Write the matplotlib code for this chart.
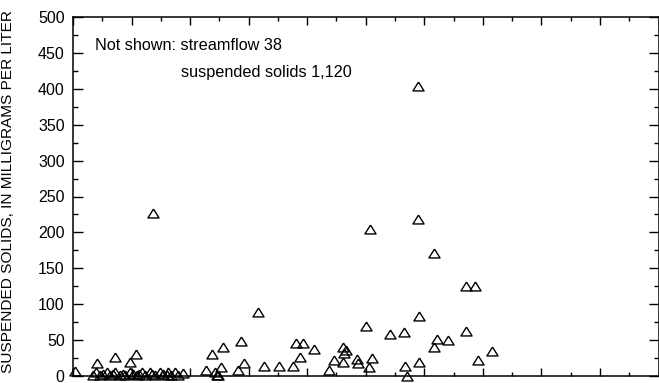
import matplotlib
matplotlib.use("Agg")
import matplotlib.pyplot as plt
from matplotlib.ticker import MultipleLocator

plt.rcParams['font.family'] = ['Liberation Sans', 'DejaVu Sans']

# streamflow (unlabelled x axis) and suspended solids, mg/L
streamflow = [
    0.03, 0.41, 0.72, 1.08, 0.97, 1.37,
    0.40, 0.58, 0.72, 0.97, 1.17, 1.31, 1.48, 1.62, 1.74, 1.88,
    0.34, 0.46, 0.63, 0.80, 0.89, 1.09, 1.23, 1.40, 1.60, 1.68, 1.79,
    0.52, 0.68, 0.85, 1.02, 1.13, 1.35, 1.53,
    2.27, 2.37, 2.56, 2.87, 3.16, 2.53, 2.42, 2.46, 2.47, 2.92, 2.82,
    3.27, 3.52, 3.76, 3.81, 3.92, 3.87, 4.11, 4.37, 4.46,
    4.61, 4.67, 4.62, 4.61, 4.85, 4.87, 5.01, 5.11, 5.06, 5.07,
    5.41, 5.66, 5.67, 5.71, 5.91, 5.91, 5.90, 5.90,
    6.17, 6.17, 6.21, 6.41, 6.71, 6.87, 6.71, 6.91, 7.16,
]
solids = [
    7, 18, 26, 31, 19, 227,
    6, 6, 6, 6, 6, 6, 6, 6, 6, 4,
    1, 1, 1, 1, 1, 1, 1, 1, 1, 1, 1,
    3, 3, 3, 3, 3, 3, 3,
    8, 31, 40, 49, 89, 13, 6, 1, 2, 18, 8,
    14, 14, 14, 46, 46, 26, 37, 8, 22,
    41, 36, 32, 20, 23, 18, 69, 25, 13, 205,
    58, 61, 14, 0, 20, 83, 218, 404,
    171, 41, 51, 50, 126, 126, 63, 22, 35,
]

fig = plt.figure(figsize=(6.59, 3.83), dpi=100)
ax = fig.add_axes([73 / 659, 7 / 383, 585.5 / 659, 359 / 383])

tri = [(0, 0.8), (-1, -0.8), (1, -0.8), (0, 0.8)]
ax.plot(streamflow, solids, linestyle='none', marker=tri, markersize=8,
        markerfacecolor='none', markeredgecolor='black', markeredgewidth=1.0,
        clip_on=False)

ax.set_xlim(0, 10)
ax.set_ylim(0, 500)
ax.xaxis.set_major_locator(MultipleLocator(1))
ax.xaxis.set_minor_locator(MultipleLocator(0.5))
ax.yaxis.set_major_locator(MultipleLocator(50))
ax.yaxis.set_minor_locator(MultipleLocator(25))

ax.tick_params(axis='x', which='both', direction='in', top=True, bottom=True,
               labelbottom=False, width=1)
ax.tick_params(axis='x', which='major', length=6)
ax.tick_params(axis='x', which='minor', length=3)
ax.tick_params(axis='y', which='both', direction='in', left=True, right=True,
               width=1, labelsize=11.5, pad=6)
ax.tick_params(axis='y', which='major', length=7)
ax.tick_params(axis='y', which='minor', length=3.5)
for s in ax.spines.values():
    s.set_linewidth(1.1)

ax.set_ylabel('SUSPENDED SOLIDS, IN MILLIGRAMS PER LITER', fontsize=11.1)
ax.yaxis.set_label_coords(-0.099, 0.514)

ax.text(0.375, 461, 'Not shown: streamflow 38', fontsize=11.7, va='center',
        ha='left')
ax.text(1.84, 423, 'suspended solids 1,120', fontsize=11.7, va='center',
        ha='left')

fig.savefig('out.png', dpi=100)
